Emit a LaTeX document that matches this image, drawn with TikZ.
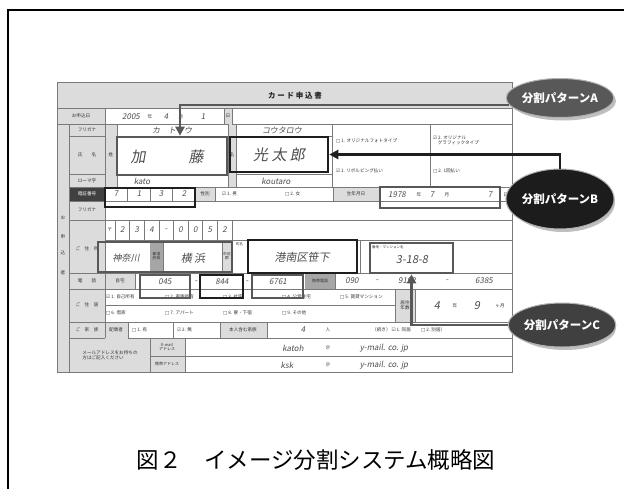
\documentclass[tikz,border=0pt]{standalone}
\usepackage{fontspec}
\setmainfont{Noto Sans CJK JP}
\newfontfamily\hwfont[FakeSlant=0.18]{Noto Sans CJK JP}
\newfontfamily\dvfont{DejaVu Sans}
\usetikzlibrary{arrows.meta,shapes.geometric,calc}
\newcommand{\cbx}{{\dvfont □}}
\newcommand{\cbk}{{\dvfont ☑}}
\definecolor{formgrey}{HTML}{DCDCDC}
\definecolor{gridc}{HTML}{7A7A7A}
\definecolor{hlgrey}{HTML}{585858}
\definecolor{hlblack}{HTML}{1E1E1E}
\definecolor{ellAc}{HTML}{585858}
\definecolor{ellBc}{HTML}{1C1C1C}
\definecolor{ellCc}{HTML}{404040}
\tikzset{
  cell/.style={fill=white, draw=gridc, line width=0.5pt},
  gline/.style={draw=gridc, line width=0.5pt},
  lab/.style={font=\fontsize{4.6}{5.2}\selectfont, text=black!80, inner sep=0pt, align=center},
  hw/.style={font=\hwfont\fontsize{8}{9}\selectfont, text=black!70, inner sep=0pt},
  hwbig/.style={font=\hwfont\fontsize{15}{16}\selectfont, text=black!70, inner sep=0pt},
  hwmid/.style={font=\hwfont\fontsize{11}{12}\selectfont, text=black!70, inner sep=0pt},
  opt/.style={font=\fontsize{4.6}{5.2}\selectfont, text=black!80, inner sep=0pt, anchor=west},
  boxA/.style={draw=hlgrey, line width=2.6pt, inner sep=0pt},
  boxB/.style={draw=hlblack, line width=2.6pt, inner sep=0pt},
  patt/.style={ellipse, draw=black!30, line width=1pt, text=white, inner sep=0pt,
    font=\bfseries\fontsize{11.5}{13}\selectfont},
  connA/.style={draw=hlgrey, line width=2.6pt, -{Triangle[length=9pt,width=9pt]}},
  connB/.style={draw=hlblack, line width=2.6pt, -{Triangle[length=9pt,width=9pt]}},
}
\begin{document}
\begin{tikzpicture}[x=1pt,y=-1pt]
\useasboundingbox (0,0) rectangle (624,488);
\fill[white] (0,0) rectangle (624,488);
% outer frame
\draw[line width=1.4pt, black] (8,495) -- (8,10) -- (630,10);

% ---------- form ----------
\fill[formgrey] (57,82) rectangle (512,372);
\draw[gline] (57,82) rectangle (512,372);
\node[font=\bfseries\fontsize{7.5}{8}\selectfont, text=black!85] (title) at (295,96) {カ ー ド 申 込 書};
\draw[gline] (57,108) -- (512,108);

% white entry cells
\path[cell] (105,108) rectangle (224,124);
\path[cell] (232,108) rectangle (512,124);
\path[cell] (117,124) rectangle (228,187);
\path[cell] (236,124) rectangle (332,187);
\path[cell] (332,124) rectangle (512,187);
\path[cell] (105,187) rectangle (195,201);
\path[cell] (215,187) rectangle (333,201);
\path[cell] (380,187) rectangle (512,201);
\path[cell] (105,201) rectangle (512,220);
\path[cell] (105,220) rectangle (512,240);
\path[cell] (105,240) rectangle (150,273);
\path[cell] (163,240) rectangle (222,273);
\path[cell] (232,240) rectangle (512,273);
\path[cell] (135,273) rectangle (305,289);
\path[cell] (335,273) rectangle (512,289);
\path[cell] (105,289) rectangle (395,322);
\path[cell] (415,289) rectangle (512,322);
\path[cell] (128,322) rectangle (220,338);
\path[cell] (267,322) rectangle (512,338);
\path[cell] (185,338) rectangle (512,372);

% darker label cells
\fill[black!75] (69,187) rectangle (105,201);
\fill[black!35] (150,242) rectangle (163,271);
\fill[black!35] (305,273) rectangle (335,289);

% grid lines
\draw[gline] (57,124) -- (105,124);
\draw[gline] (69,124) -- (69,372) (105,108) -- (105,338) (57,108) -- (57,372);
\foreach \yy in {136,174,187,201,220,273,289,322,338}{\draw[gline] (69,\yy) -- (105,\yy);}
\draw[gline] (117,136) -- (228,136) (117,174) -- (228,174) (236,136) -- (332,136) (236,174) -- (332,174);
\draw[gline] (332,155) -- (512,155) (430,124) -- (430,187);
\foreach \xx in {127.5,150,172.5}{\draw[gline] (\xx,187) -- (\xx,201);}
\foreach \k in {0,...,8}{\draw[gline] (115+14.6*\k,220) -- (115+14.6*\k,240);}
\draw[gline] (105,305) -- (395,305) (173,322) -- (173,338);
\draw[gline] (150,338) -- (150,372) (150,356) -- (512,356);
\draw[gline] (360,240) -- (360,273);

% label column texts
\node[lab] (l0) at (81,116) {お申込日};
\node[lab] (l1) at (87,130) {フリガナ};
\node[lab] (l2) at (87,155) {氏　　名};
\node[lab] (l3) at (87,181) {ローマ字};
\node[lab, text=white] (l4) at (87,194) {暗証番号};
\node[lab] (l5) at (87,210) {フリガナ};
\node[lab] (l6) at (87,249) {ご　住　所};
\node[lab] (l7) at (87,281) {電　　話};
\node[lab] (l8) at (87,305) {ご　住　居};
\node[lab] (l9) at (87,330) {ご　家　族};
\node[lab, align=left] (l10) at (110,355) {メールアドレスをお持ちの\\方はご記入ください};
\node[lab] (s1) at (63,218) {お};
\node[lab] (s2) at (63,237) {申};
\node[lab] (s3) at (63,253) {込};
\node[lab] (s4) at (63,273) {者};

% small grey cell texts
\node[lab] (c1) at (111,155) {姓};
\node[lab] (c2) at (232,155) {名};
\node[lab] (c3) at (228,116) {日};
\node[lab] (c4) at (205,194) {性別};
\node[lab] (c5) at (356,194) {生年月日};
\node[lab] (c6) at (110,230) {〒};
\node[lab, font=\fontsize{3.8}{4.2}\selectfont] (c7) at (156.5,256) {都道\\府県};
\node[lab, font=\fontsize{3.8}{4.2}\selectfont] (c8) at (227,256) {市区\\郡};
\node[lab, font=\fontsize{3.5}{4}\selectfont, anchor=west] (c9) at (236,244) {町名};
\node[lab, font=\fontsize{3.5}{4}\selectfont, anchor=west] (c10) at (372,247) {番地・マンション名};
\node[lab] (c11) at (120,281) {自宅};
\node[lab, font=\fontsize{4}{4.5}\selectfont] (c12) at (320,281) {携帯電話};
\node[lab] (c13) at (405,305) {居住\\年数};
\node[lab] (c14) at (116,330) {配偶者};
\node[lab] (c15) at (243,330) {本人含む家族};
\node[lab, font=\fontsize{4}{4.5}\selectfont] (c16) at (167,347) {E-mail\\アドレス};
\node[lab, font=\fontsize{4}{4.5}\selectfont] (c17) at (167,364) {携帯アドレス};

% options
\node[opt] (o1) at (336,141) {\cbx\,1. オリジナルフォトタイプ};
\node[opt, align=left] (o2) at (433,140) {\cbk\,2. オリジナル\\\quad グラフィックタイプ};
\node[opt] (o3) at (336,171) {\cbk\,1. リボルビング払い};
\node[opt] (o4) at (433,171) {\cbx\,2. 1回払い};
\node[opt] (o5) at (222,194) {\cbk\,1. 男};
\node[opt] (o6) at (285,194) {\cbx\,2. 女};
\node[opt] (o7) at (106,297) {\cbk\,1. 自己所有};
\node[opt] (o8) at (165,297) {\cbx\,2. 家族所有};
\node[opt] (o9) at (223,297) {\cbx\,3. 社宅};
\node[opt] (o10) at (282,297) {\cbx\,4. 公営住宅};
\node[opt] (o11) at (340,297) {\cbx\,5. 賃貸マンション};
\node[opt] (o12) at (106,313) {\cbx\,6. 借家};
\node[opt] (o13) at (165,313) {\cbx\,7. アパート};
\node[opt] (o14) at (223,313) {\cbx\,8. 寮・下宿};
\node[opt] (o15) at (282,313) {\cbx\,9. その他};
\node[opt] (o16) at (132,330) {\cbx\,1. 有};
\node[opt] (o17) at (177,330) {\cbk\,2. 無};
\node[opt] (o18) at (372,330) {（続き）\ \cbk\,1. 同居 \qquad\cbx\,2. 別居）};

% handwriting
\node[hw] (h1) at (131,117) {2005};
\node[lab] (h1a) at (150,117) {年};
\node[hw] (h1b) at (166,117) {4};
\node[lab] (h1c) at (181,117) {月};
\node[hw] (h1d) at (203,117) {1};
\node[hw] (h2) at (172,130) {カ　ト　ウ};
\node[hw] (h3) at (282,130) {コウタロウ};
\node[hwbig] (h4) at (138,157) {加};
\node[hwbig] (h5) at (196,157) {藤};
\node[hwbig] (h6) at (279,155) {光 太 郎};
\node[hw] (h7) at (142,181) {kato};
\node[hw] (h8) at (276,181) {koutaro};
\node[hw] (p1) at (116,194) {7};
\node[hw] (p2) at (139,194) {1};
\node[hw] (p3) at (161,194) {3};
\node[hw] (p4) at (184,194) {2};
\node[hw] (b1) at (397,195) {1978};
\node[lab] (b2) at (419,195) {年};
\node[hw] (b3) at (432,195) {7};
\node[lab] (b4) at (447,195) {月};
\node[hw] (b5) at (490,195) {7};
\node[lab] (b6) at (506,195) {日};
\foreach \d [count=\i from 0] in {2,3,4,-,0,0,5,2}{\node[hw] at (122.3+14.6*\i,230) {\d};}
\node[hwmid, font=\hwfont\fontsize{9}{10}\selectfont] (a1) at (126,258) {神奈川};
\node[hwmid] (a2) at (193,258) {横 浜};
\node[hwmid] (a3) at (302,257) {港南区笹下};
\node[hwmid] (a4) at (412,260) {3-18-8};
\node[hw] (t1) at (165,282) {045};
\node[hw] (t2) at (196,282) {-};
\node[hw] (t3) at (222,282) {844};
\node[hw] (t4) at (247,282) {-};
\node[hw] (t5) at (278,282) {6761};
\node[hw] (t6) at (352,281) {090};
\node[hw] (t7) at (377,281) {-};
\node[hw] (t8) at (407,281) {9192};
\node[hw] (t9) at (447,281) {-};
\node[hw] (t10) at (484,281) {6385};
\node[hwmid] (y1) at (437,306) {4};
\node[lab] (y2) at (455,306) {年};
\node[hwmid] (y3) at (477,306) {9};
\node[lab] (y4) at (500,306) {ヶ月};
\node[hw] (f1) at (303,330) {4};
\node[lab] (f2) at (328,330) {人};
\node[hw] (m1) at (293,348) {katoh};
\node[lab] (m2) at (328,348) {＠};
\node[hw] (m3) at (384,348) {y-mail. co. jp};
\node[hw] (m4) at (287,365) {ksk};
\node[lab] (m5) at (328,365) {＠};
\node[hw] (m6) at (384,365) {y-mail. co. jp};

% ---------- highlight boxes ----------
\node[boxA, minimum width=110pt, minimum height=38pt] (katoBox) at (172,156) {};
\node[boxB, minimum width=98pt, minimum height=35pt] (koutaroBox) at (279,154.5) {};
\node[boxB, minimum width=90pt, minimum height=19pt] (pinBox) at (150,197.5) {};
\node[boxA, minimum width=120pt, minimum height=21pt] (birthBox) at (440,197.5) {};
\node[boxA, minimum width=134pt, minimum height=30pt] (prefBox) at (165,257) {};
\node[boxB, minimum width=109pt, minimum height=33pt] (wardBox) at (302.5,256.5) {};
\node[boxA, minimum width=83pt, minimum height=30pt] (addrBox) at (411.5,258) {};
\node[boxA, minimum width=50pt, minimum height=23pt] (tel1Box) at (165,286.5) {};
\node[boxB, minimum width=43pt, minimum height=23pt] (tel2Box) at (221.5,286.5) {};
\node[boxA, minimum width=51pt, minimum height=23pt] (tel3Box) at (277.5,286.5) {};

% ---------- pattern labels ----------
\fill[black!25] (563,101) ellipse [x radius=53pt, y radius=19.5pt];
\fill[black!25] (563,202) ellipse [x radius=52pt, y radius=30pt];
\fill[black!25] (565,328) ellipse [x radius=51pt, y radius=22pt];
\node[patt, fill=ellAc, minimum width=106pt, minimum height=39pt] (ellA) at (560,98) {分割パターンA};
\node[patt, fill=ellBc, minimum width=104pt, minimum height=60pt] (ellB) at (560,199) {分割パターンB};
\node[patt, fill=ellCc, minimum width=102pt, minimum height=44pt] (ellC) at (562,325) {分割パターンC};

% ---------- connectors ----------
\draw[connA] (ellA.188) -| ($(katoBox.north)+(8,0)$);
\draw[connB] (ellB.north) |- (koutaroBox.east);
\draw[connA] (ellC.west) -| (addrBox.south);

% ---------- caption ----------
\node[font=\fontsize{22.5}{24}\selectfont] (cap) at (316,460) {図２　イメージ分割システム概略図};
\end{tikzpicture}
\end{document}
